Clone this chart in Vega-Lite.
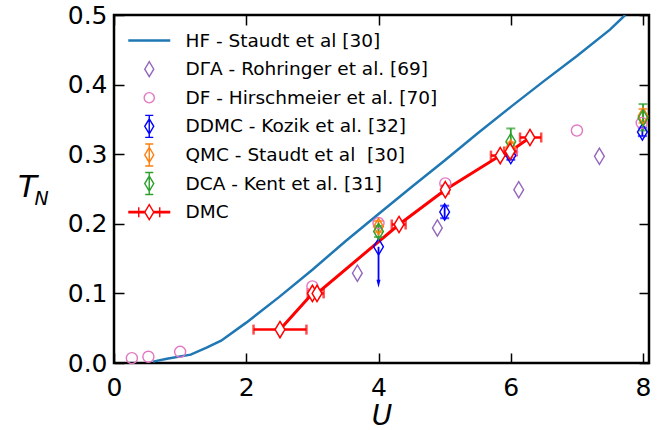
{
  "$schema": "https://vega.github.io/schema/vega-lite/v6.json",
  "width": 535,
  "height": 348,
  "autosize": {"type": "none"},
  "padding": {"left": 114, "top": 15, "right": 23, "bottom": 67},
  "background": "white",
  "config": {
    "view": {"stroke": "black", "strokeWidth": 2.5},
    "font": "DejaVu Sans",
    "axis": {
      "grid": false, "domain": false,
      "labelFont": "DejaVu Sans", "labelFontSize": 25, "labelColor": "black",
      "tickColor": "black", "tickWidth": 1.5, "tickSize": -10,
      "titleFont": "DejaVu Sans", "titleColor": "black", "titleFontWeight": "normal",
      "labelFlush": false, "labelOverlap": false
    }
  },
  "datasets": {
    "hf": [
      {"U": 0.59, "T": 0.002}, {"U": 0.8, "T": 0.006}, {"U": 1.16, "T": 0.012},
      {"U": 1.4, "T": 0.022}, {"U": 1.62, "T": 0.032}, {"U": 2.0, "T": 0.058},
      {"U": 2.5, "T": 0.095}, {"U": 3.0, "T": 0.134}, {"U": 3.5, "T": 0.175},
      {"U": 4.0, "T": 0.214}, {"U": 4.5, "T": 0.253}, {"U": 5.0, "T": 0.291},
      {"U": 5.5, "T": 0.33}, {"U": 6.0, "T": 0.368}, {"U": 6.5, "T": 0.405},
      {"U": 7.0, "T": 0.441}, {"U": 7.5, "T": 0.479}, {"U": 7.73, "T": 0.5}
    ],
    "dmc": [
      {"U": 2.51, "T": 0.048, "xlo": 2.11, "xhi": 2.91},
      {"U": 3.0, "T": 0.1, "xlo": 2.93, "xhi": 3.08},
      {"U": 3.07, "T": 0.1, "xlo": 2.98, "xhi": 3.17},
      {"U": 4.31, "T": 0.199, "xlo": 4.2, "xhi": 4.41},
      {"U": 5.01, "T": 0.249, "xlo": 4.96, "xhi": 5.06},
      {"U": 5.84, "T": 0.298, "xlo": 5.7, "xhi": 5.97},
      {"U": 5.99, "T": 0.304, "xlo": 5.9, "xhi": 6.09},
      {"U": 6.29, "T": 0.324, "xlo": 6.14, "xhi": 6.46}
    ],
    "pts": [
      {"s": "DΓA - Rohringer et al. [69]", "U": 3.68, "T": 0.129},
      {"s": "DΓA - Rohringer et al. [69]", "U": 4.89, "T": 0.194},
      {"s": "DΓA - Rohringer et al. [69]", "U": 6.12, "T": 0.249},
      {"s": "DΓA - Rohringer et al. [69]", "U": 7.34, "T": 0.297},
      {"s": "DF - Hirschmeier et al. [70]", "U": 0.27, "T": 0.007},
      {"s": "DF - Hirschmeier et al. [70]", "U": 0.52, "T": 0.009},
      {"s": "DF - Hirschmeier et al. [70]", "U": 1.0, "T": 0.016},
      {"s": "DF - Hirschmeier et al. [70]", "U": 3.0, "T": 0.11},
      {"s": "DF - Hirschmeier et al. [70]", "U": 4.0, "T": 0.201},
      {"s": "DF - Hirschmeier et al. [70]", "U": 5.01, "T": 0.258},
      {"s": "DF - Hirschmeier et al. [70]", "U": 6.02, "T": 0.303},
      {"s": "DF - Hirschmeier et al. [70]", "U": 7.0, "T": 0.334},
      {"s": "DF - Hirschmeier et al. [70]", "U": 7.98, "T": 0.345},
      {"s": "DDMC - Kozik et al. [32]", "U": 4.0, "T": 0.167},
      {"s": "DDMC - Kozik et al. [32]", "U": 5.0, "T": 0.217, "lo": 0.208, "hi": 0.226},
      {"s": "DDMC - Kozik et al. [32]", "U": 6.0, "T": 0.298, "lo": 0.292, "hi": 0.305},
      {"s": "DDMC - Kozik et al. [32]", "U": 7.99, "T": 0.332, "lo": 0.326, "hi": 0.338},
      {"s": "QMC - Staudt et al  [30]", "U": 4.0, "T": 0.196, "lo": 0.188, "hi": 0.204},
      {"s": "QMC - Staudt et al  [30]", "U": 6.0, "T": 0.309, "lo": 0.301, "hi": 0.317},
      {"s": "QMC - Staudt et al  [30]", "U": 8.0, "T": 0.355, "lo": 0.345, "hi": 0.365},
      {"s": "DCA - Kent et al. [31]", "U": 4.0, "T": 0.189, "lo": 0.181, "hi": 0.197},
      {"s": "DCA - Kent et al. [31]", "U": 6.0, "T": 0.318, "lo": 0.302, "hi": 0.337},
      {"s": "DCA - Kent et al. [31]", "U": 8.0, "T": 0.352, "lo": 0.334, "hi": 0.372}
    ],
    "arrow": [{"U": 4.0, "T": 0.167, "end": 0.118, "tip": 0.114}]
  },
  "layer": [
    {
      "data": {"name": "hf"},
      "mark": {"type": "line", "color": "#1f77b4", "strokeWidth": 2.5, "clip": true},
      "encoding": {
        "x": {"field": "U", "type": "quantitative", "scale": {"domain": [0, 8.09], "nice": false, "zero": false},
              "axis": {"values": [0, 2, 4, 6, 8], "format": "d", "labelPadding": 22.5, "title": "U", "titleFontSize": 28, "titleFontStyle": "italic", "titleY": 53, "titleBaseline": "middle"}},
        "y": {"field": "T", "type": "quantitative", "scale": {"domain": [0, 0.5], "nice": false},
              "axis": {"values": [0, 0.1, 0.2, 0.3, 0.4, 0.5], "format": ".1f", "labelPadding": 17, "title": "T", "titleAngle": 0, "titleX": -87, "titleY": 172, "titleAlign": "center", "titleBaseline": "middle", "titleFontSize": 31, "titleFontStyle": "italic"}}
      }
    },
    {
      "data": {"name": "dmc"},
      "mark": {"type": "line", "color": "#ff0000", "strokeWidth": 3},
      "encoding": {
        "x": {"field": "U", "type": "quantitative", "axis": null},
        "y": {"field": "T", "type": "quantitative", "axis": null}
      }
    },
    {
      "data": {"name": "dmc"},
      "mark": {"type": "rule", "color": "#ff0000", "strokeWidth": 2.5},
      "encoding": {
        "x": {"field": "xlo", "type": "quantitative", "axis": null},
        "x2": {"field": "xhi"},
        "y": {"field": "T", "type": "quantitative", "axis": null}
      }
    },
    {
      "data": {"name": "dmc"},
      "mark": {"type": "tick", "orient": "vertical", "color": "#ff0000", "size": 10, "thickness": 2.5},
      "encoding": {
        "x": {"field": "xlo", "type": "quantitative", "axis": null},
        "y": {"field": "T", "type": "quantitative", "axis": null}
      }
    },
    {
      "data": {"name": "dmc"},
      "mark": {"type": "tick", "orient": "vertical", "color": "#ff0000", "size": 10, "thickness": 2.5},
      "encoding": {
        "x": {"field": "xhi", "type": "quantitative", "axis": null},
        "y": {"field": "T", "type": "quantitative", "axis": null}
      }
    },
    {
      "data": {"name": "pts"},
      "transform": [{"filter": "isValid(datum.lo)"}],
      "mark": {"type": "rule", "strokeWidth": 1.8},
      "encoding": {
        "x": {"field": "U", "type": "quantitative", "axis": null},
        "y": {"field": "lo", "type": "quantitative", "axis": null},
        "y2": {"field": "hi"},
        "color": {"field": "s", "type": "nominal", "legend": null,
                  "scale": {"domain": ["DDMC - Kozik et al. [32]", "QMC - Staudt et al  [30]", "DCA - Kent et al. [31]"], "range": ["#0000ff", "#ff7f0e", "#2ca02c"]}}
      }
    },
    {
      "data": {"name": "pts"},
      "transform": [{"filter": "isValid(datum.lo)"}],
      "mark": {"type": "tick", "orient": "horizontal", "size": 9, "thickness": 2},
      "encoding": {
        "x": {"field": "U", "type": "quantitative", "axis": null},
        "y": {"field": "lo", "type": "quantitative", "axis": null},
        "color": {"field": "s", "type": "nominal", "legend": null,
                  "scale": {"domain": ["DDMC - Kozik et al. [32]", "QMC - Staudt et al  [30]", "DCA - Kent et al. [31]"], "range": ["#0000ff", "#ff7f0e", "#2ca02c"]}}
      }
    },
    {
      "data": {"name": "pts"},
      "transform": [{"filter": "isValid(datum.hi)"}],
      "mark": {"type": "tick", "orient": "horizontal", "size": 9, "thickness": 2},
      "encoding": {
        "x": {"field": "U", "type": "quantitative", "axis": null},
        "y": {"field": "hi", "type": "quantitative", "axis": null},
        "color": {"field": "s", "type": "nominal", "legend": null,
                  "scale": {"domain": ["DDMC - Kozik et al. [32]", "QMC - Staudt et al  [30]", "DCA - Kent et al. [31]"], "range": ["#0000ff", "#ff7f0e", "#2ca02c"]}}
      }
    },
    {
      "data": {"name": "arrow"},
      "mark": {"type": "rule", "color": "#0000ff", "strokeWidth": 1.8},
      "encoding": {
        "x": {"field": "U", "type": "quantitative", "axis": null},
        "y": {"field": "T", "type": "quantitative", "axis": null},
        "y2": {"field": "end"}
      }
    },
    {
      "data": {"name": "arrow"},
      "mark": {"type": "point", "shape": "M-0.5,-1L0.5,-1L0,1Z", "filled": true, "color": "#0000ff", "size": 64, "opacity": 1},
      "encoding": {
        "x": {"field": "U", "type": "quantitative", "axis": null},
        "y": {"field": "tip", "type": "quantitative", "axis": null}
      }
    },
    {
      "data": {"name": "pts"},
      "mark": {"type": "point", "filled": false, "strokeWidth": 1.4, "size": 170, "opacity": 1},
      "encoding": {
        "x": {"field": "U", "type": "quantitative", "axis": null},
        "y": {"field": "T", "type": "quantitative", "axis": null},
        "color": {"field": "s", "type": "nominal", "legend": null,
                  "scale": {"domain": ["DΓA - Rohringer et al. [69]", "DF - Hirschmeier et al. [70]", "DDMC - Kozik et al. [32]", "QMC - Staudt et al  [30]", "DCA - Kent et al. [31]"],
                            "range": ["#9467bd", "#e377c2", "#0000ff", "#ff7f0e", "#2ca02c"]}},
        "shape": {"field": "s", "type": "nominal", "legend": null,
                  "scale": {"domain": ["DΓA - Rohringer et al. [69]", "DF - Hirschmeier et al. [70]", "DDMC - Kozik et al. [32]", "QMC - Staudt et al  [30]", "DCA - Kent et al. [31]"],
                            "range": ["M0,-1.25L0.75,0L0,1.25L-0.75,0Z", "M-0.85,0A0.85,0.85,0,1,0,0.85,0A0.85,0.85,0,1,0,-0.85,0Z", "M0,-1.25L0.75,0L0,1.25L-0.75,0Z", "M0,-1.25L0.75,0L0,1.25L-0.75,0Z", "M0,-1.25L0.75,0L0,1.25L-0.75,0Z"]}}
      }
    },
    {
      "data": {"name": "dmc"},
      "mark": {"type": "point", "shape": "M0,-1.25L0.75,0L0,1.25L-0.75,0Z", "filled": true, "fill": "white", "stroke": "#ff0000", "strokeWidth": 1.5, "size": 170, "opacity": 1, "fillOpacity": 1},
      "encoding": {
        "x": {"field": "U", "type": "quantitative", "axis": null},
        "y": {"field": "T", "type": "quantitative", "axis": null}
      }
    },
    {
      "data": {"values": []},
      "mark": {"type": "point", "filled": false, "strokeWidth": 1.4, "size": 144, "opacity": 1},
      "encoding": {
        "color": {"field": "s", "type": "nominal",
                  "scale": {"domain": ["HF - Staudt et al [30]", "DΓA - Rohringer et al. [69]", "DF - Hirschmeier et al. [70]", "DDMC - Kozik et al. [32]", "QMC - Staudt et al\u00a0 [30]", "DCA - Kent et al. [31]", "DMC"],
                            "range": ["#1f77b4", "#9467bd", "#e377c2", "#0000ff", "#ff7f0e", "#2ca02c", "#ff0000"]},
                  "legend": {"orient": "none", "legendX": 26, "legendY": 16.3, "title": null, "labelFont": "DejaVu Sans", "labelFontSize": 18.5, "labelColor": "black", "labelOffset": 27, "rowPadding": -0.4, "symbolSize": 144, "symbolStrokeWidth": 1.4, "padding": 0, "labelLimit": 0}},
        "shape": {"field": "s", "type": "nominal",
                  "scale": {"domain": ["HF - Staudt et al [30]", "DΓA - Rohringer et al. [69]", "DF - Hirschmeier et al. [70]", "DDMC - Kozik et al. [32]", "QMC - Staudt et al\u00a0 [30]", "DCA - Kent et al. [31]", "DMC"],
                            "range": [
                              "M0,-1.9M0,1.9M-3.5,-0.09L3.5,-0.09M-3.5,0.09L3.5,0.09",
                              "M0,-1.9M0,1.9M0,-1.25L0.75,0L0,1.25L-0.75,0Z",
                              "M0,-1.9M0,1.9M-0.85,0A0.85,0.85,0,1,0,0.85,0A0.85,0.85,0,1,0,-0.85,0Z",
                              "M0,-1.9M0,1.9M0,-1.25L0.75,0L0,1.25L-0.75,0ZM0,-1.83L0,1.83M-0.67,-1.83L0.67,-1.83M-0.67,1.83L0.67,1.83",
                              "M0,-1.9M0,1.9M0,-1.25L0.75,0L0,1.25L-0.75,0ZM0,-1.83L0,1.83M-0.67,-1.83L0.67,-1.83M-0.67,1.83L0.67,1.83",
                              "M0,-1.9M0,1.9M0,-1.25L0.75,0L0,1.25L-0.75,0ZM0,-1.83L0,1.83M-0.67,-1.83L0.67,-1.83M-0.67,1.83L0.67,1.83",
                              "M0,-1.9M0,1.9M-3.5,-0.1L-0.75,-0.1M-3.5,0.1L-0.75,0.1M0.75,-0.1L3.5,-0.1M0.75,0.1L3.5,0.1M-1.75,-0.83L-1.75,0.83M1.75,-0.83L1.75,0.83M0,-1.25L0.75,0L0,1.25L-0.75,0Z"
                            ]},
                  "legend": {"orient": "none", "legendX": 26, "legendY": 16.3, "title": null, "labelFont": "DejaVu Sans", "labelFontSize": 18.5, "labelColor": "black", "labelOffset": 27, "rowPadding": -0.4, "symbolSize": 144, "symbolStrokeWidth": 1.4, "padding": 0, "labelLimit": 0}}
      }
    },
    {
      "data": {"values": []},
      "mark": {"type": "point"},
      "encoding": {
        "x": {"field": "U", "type": "quantitative",
              "axis": {"orient": "top", "values": [0, 2, 4, 6, 8], "labels": false, "title": null}},
        "y": {"field": "T", "type": "quantitative",
              "axis": {"orient": "right", "values": [0, 0.1, 0.2, 0.3, 0.4, 0.5], "labels": false, "title": "N", "titleAngle": 0, "titleX": -608, "titleY": 183, "titleAlign": "center", "titleBaseline": "middle", "titleFontSize": 19, "titleFontStyle": "italic"}}
      }
    }
  ],
  "resolve": {
    "scale": {"color": "independent", "shape": "independent"},
    "axis": {"x": "independent", "y": "independent"}
  }
}
